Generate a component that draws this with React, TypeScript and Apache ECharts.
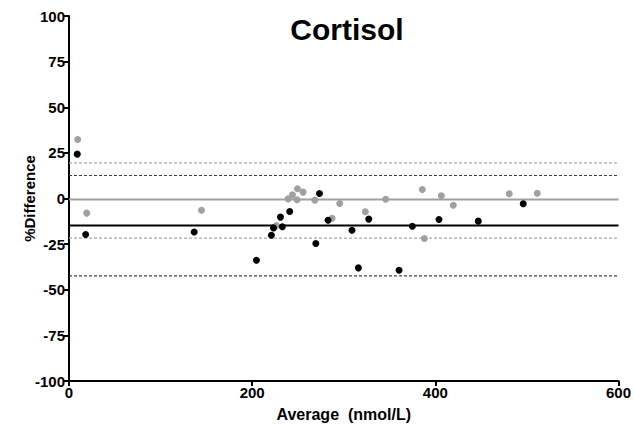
import React, { useEffect, useRef } from "react";
import * as echarts from "echarts";

const blackPoints: [number, number][] = [
  [9, 24.3], [18.2, -19.7], [136.7, -18.4], [204.7, -33.8], [221, -20.1],
  [223.3, -16.1], [233, -15.5], [230.9, -10.2], [241, -7.1], [273.5, 2.7],
  [269.5, -24.7], [282.9, -11.9], [309, -17.4], [316, -38], [327.3, -11.3],
  [360.4, -39.3], [374.9, -15.2], [404, -11.5], [446.9, -12.4], [496, -2.9],
];
const grayPoints: [number, number][] = [
  [9.5, 32.3], [19.3, -8], [144.7, -6.4], [226.5, -14.8], [239.3, -0.2],
  [244, 2], [249.5, 5.3], [249, -0.7], [255.6, 3.5], [268.4, -0.9],
  [287.3, -10.8], [295.6, -2.7], [323.6, -7.3], [345.8, -0.4], [385.8, 4.9],
  [388, -21.9], [406.6, 1.5], [419.6, -3.7], [480.7, 2.6], [511.3, 2.9],
];
// mean, upper limit, lower limit
const blackLimits = [-14.8, 12.6, -42.4];
const grayLimits = [-0.6, 19.5, -21.7];
const xRange = [0, 600];

const FONT = "'Liberation Sans', Arial, sans-serif";

function hLine(name: string, y: number, color: string, width: number, type: any, z: number) {
  return {
    name,
    type: "line",
    data: [[xRange[0], y], [xRange[1], y]],
    symbol: "none",
    lineStyle: { color, width, type },
    silent: true,
    z,
  };
}

export default function App() {
  const ref = useRef<HTMLDivElement>(null);
  useEffect(() => {
    const chart = echarts.init(ref.current!, null, { renderer: "svg" });
    chart.setOption({
      animation: false,
      backgroundColor: "#fff",
      title: {
        text: "Cortisol",
        left: 342,
        top: 9,
        textAlign: "center",
        textStyle: { fontFamily: FONT, fontSize: 30, fontWeight: "bold", color: "#000" },
      },
      grid: { left: 69, right: 15, top: 16, bottom: 47 },
      xAxis: {
        type: "value",
        min: 0,
        max: 600,
        interval: 200,
        name: "Average  (nmol/L)",
        nameLocation: "middle",
        nameGap: 25,
        nameMoveOverlap: false,
        nameTextStyle: { fontFamily: FONT, fontSize: 16, fontWeight: "bold", color: "#000" },
        axisLine: { onZero: false, lineStyle: { color: "#000", width: 2 } },
        axisTick: { show: true, length: 5, lineStyle: { color: "#000", width: 2 } },
        axisLabel: { fontFamily: FONT, fontSize: 15, fontWeight: "bold", color: "#000", margin: 4 },
        splitLine: { show: false },
      },
      yAxis: {
        type: "value",
        min: -100,
        max: 100,
        interval: 25,
        name: "%Difference",
        nameLocation: "middle",
        nameRotate: 90,
        nameGap: 32,
        nameMoveOverlap: false,
        nameTextStyle: { fontFamily: FONT, fontSize: 15, fontWeight: "bold", color: "#000" },
        axisLine: { onZero: false, lineStyle: { color: "#000", width: 2 } },
        axisTick: { show: true, length: 5, lineStyle: { color: "#000", width: 2 } },
        axisLabel: { fontFamily: FONT, fontSize: 15, fontWeight: "bold", color: "#000", margin: 4 },
        splitLine: { show: false },
      },
      series: [
        hLine("grayMean", grayLimits[0], "#a0a0a0", 2, "solid", 1),
        hLine("grayUpper", grayLimits[1], "#a8a8a8", 1.2, [3, 2], 1),
        hLine("grayLower", grayLimits[2], "#a8a8a8", 1.2, [3, 2], 1),
        hLine("blackMean", blackLimits[0], "#000", 2, "solid", 1),
        hLine("blackUpper", blackLimits[1], "#404040", 1.2, [3, 2], 1),
        hLine("blackLower", blackLimits[2], "#404040", 1.2, [3, 2], 1),
        {
          name: "gray",
          type: "scatter",
          data: grayPoints,
          symbol: "circle",
          symbolSize: 7,
          itemStyle: { color: "#a0a0a0", opacity: 1 },
          z: 3,
        },
        {
          name: "black",
          type: "scatter",
          data: blackPoints,
          symbol: "circle",
          symbolSize: 7,
          itemStyle: { color: "#000", opacity: 1 },
          z: 4,
        },
      ],
    });
    return () => chart.dispose();
  }, []);
  return <div ref={ref} style={{ width: 634, height: 428, position: "absolute", left: 0, top: 0 }} />;
}
